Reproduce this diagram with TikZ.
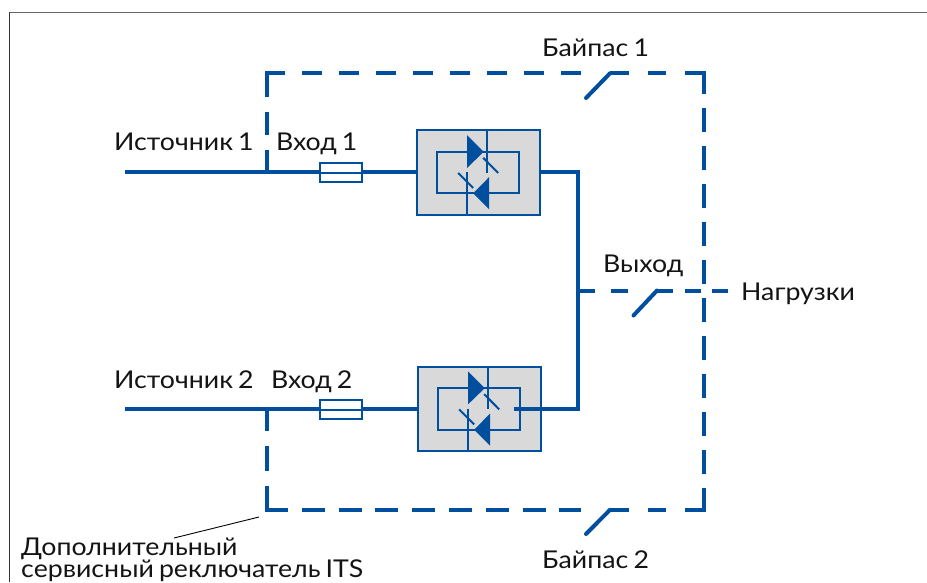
\documentclass[tikz,border=0pt]{standalone}
\usepackage{fontspec}
\setmainfont[FakeStretch=1.09,WordSpace=0.75]{Lato}
\definecolor{upsblue}{HTML}{004F9F}
\definecolor{boxgray}{HTML}{D9D9D9}
\tikzset{
  wire/.style={draw=upsblue,line width=4pt},
  dashwire/.style={draw=upsblue,line width=4pt},
  sw/.style={draw=upsblue,line width=4pt,line cap=round},
  thinwire/.style={draw=upsblue,line width=2pt},
  lbl/.style={font=\fontsize{24.5pt}{26pt}\selectfont,inner sep=0pt,text=black!92,anchor=base west},
  fuse/.style={draw=upsblue,line width=2pt,fill=white,minimum width=42pt,minimum height=19.5pt,inner sep=0pt,outer sep=0pt},
}
\newcommand{\convbox}[3]{%
\begin{scope}[shift={(#1,#2)}]
\node[draw=upsblue,line width=2pt,fill=boxgray,minimum width=123pt,minimum height=84.7pt,inner sep=0pt,outer sep=0pt,anchor=north west] (#3) at (0,0) {};
\draw[thinwire] (20,21.2) rectangle (102.6,63);
\fill[upsblue] (50.3,4.7) -- (67,21.5) -- (50.3,37.7) -- cycle;
\fill[upsblue] (72.5,46.7) -- (56.5,63) -- (72.5,79) -- cycle;
\draw[thinwire] (70.6,0) -- (70.6,42.7);
\draw[thinwire] (50,42) -- (50,84.7);
\draw[thinwire] (66.5,27.5) -- (81.5,42.7);
\draw[thinwire] (41.5,42.7) -- (56.5,57.7);
\end{scope}}
\begin{document}
\begin{tikzpicture}[x=1pt,y=-1pt]
\useasboundingbox (0,0) rectangle (927,582);
\fill[white] (0,0) rectangle (927,582);
\draw[black!60,line width=1.1pt] (9,12.3) -- (927,12.3);
\draw[black!80,line width=1.1pt] (9.5,582) -- (9.5,12);
\coordinate (c1) at (267,172.4);
\coordinate (c2) at (267,408.6);
\coordinate (o) at (578.3,290.5);
\coordinate (s1) at (125,172.4);
\coordinate (s2) at (125,408.6);
\coordinate (j1) at (578.3,172.4);
\coordinate (j2) at (578.3,408.6);
\convbox{416.7}{130.3}{conv1}
\convbox{417.7}{366.7}{conv2}
% main wires
\draw[wire] (s1) -- (c1) -- (conv1.west |- c1);
\draw[wire] (s2) -- (c2) -- (conv2.west |- c2);
\draw[wire] (conv1.east |- j1) -- (j1) -- (j2) -- (514,408.6);
% fuses
\node[fuse] (f1) at (341,172.6) {};
\node[fuse] (f2) at (341,409.5) {};
\draw[thinwire] (f1.west) -- (f1.east);
\draw[thinwire] (f2.west) -- (f2.east);
% dashed bypass lines
\coordinate (tsw) at (610,73.3);
\coordinate (bsw) at (610,509.8);
\coordinate (osw) at (657,290.5);
\coordinate (tgap) at (581,73.3);
\coordinate (bgap) at (581,509.8);
\coordinate (ogap) at (628,290.5);
\coordinate (oend) at (728,290.5);
\coordinate (tlcorner) at (265,73.3);
\coordinate (blcorner) at (265,509.8);
\coordinate (vtop) at (267,71.3);
\coordinate (vbot) at (267,511.8);
\coordinate (rtop) at (704,71.3);
\coordinate (rbot) at (704,511.8);
\coordinate (trc) at (706,73.3);
\coordinate (brc) at (706,509.8);
\draw[dashwire,dash pattern=on 23pt off 15pt] (c1) ++(0,1) -- (vtop);
\draw[dashwire,dash pattern=on 24.5pt off 15pt] (c2) ++(0,-2) -- (vbot);
\draw[dashwire,dash pattern=on 20pt off 17pt] (tlcorner) -- (tgap);
\draw[dashwire,dash pattern=on 18.5pt off 19pt] (tsw) -- (trc);
\draw[dashwire,dash pattern=on 23pt off 13.8pt] (blcorner) -- (bgap);
\draw[dashwire,dash pattern=on 18.5pt off 19pt] (bsw) -- (brc);
\draw[dashwire,dash pattern=on 24pt off 14pt] (rbot) -- (rtop);
\draw[dashwire,dash pattern=on 16.7pt off 16.3pt] (o) -- (ogap);
\draw[dashwire,dash pattern=on 16pt off 11.5pt] (osw) -- (oend);
% switches
\draw[sw] (586,98) -- (tsw);
\draw[sw] (586,534) -- (bsw);
\draw[sw] (633.5,315.5) -- (osw);
% labels
\node[lbl] (a) at (114,150) {Источник 1};
\node[lbl] (b) at (114,388) {Источник 2};
\node[lbl] (c) at (276,150) {Вход 1};
\node[lbl] (d) at (271,388) {Вход 2};
\node[lbl] (e) at (542,56) {Байпас 1};
\node[lbl] (f) at (542,568) {Байпас 2};
\node[lbl] (g) at (603,272) {Выход};
\node[lbl] (h) at (741,300) {Нагрузки};
\node[lbl] (i) at (21,555) {Дополнительный};
\node[lbl] (j) at (21,577.5) {сервисный реключатель ITS};
\coordinate (l1) at (174,538);
\coordinate (l2) at (259,517);
\draw[black,line width=0.9pt] (l1) -- (l2);
\end{tikzpicture}
\end{document}
